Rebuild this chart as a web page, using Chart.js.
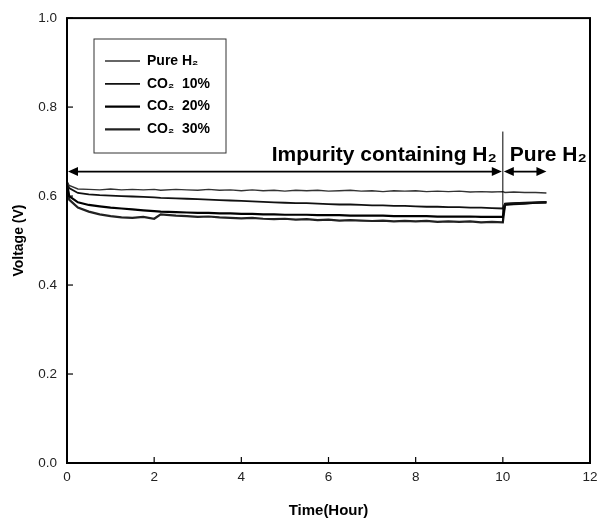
<!DOCTYPE html>
<html>
<head>
<meta charset="utf-8">
<script src="https://cdn.jsdelivr.net/npm/chart.js@4.4.1/dist/chart.umd.min.js"></script>
<style>
    html, body { margin: 0; padding: 0; background: #fff; }
    #wrap { width: 605px; height: 524px; }
</style>
</head>
<body>
<div id="wrap"><canvas id="voltChart" width="605" height="524"></canvas></div>
<script>
// time in hours
const times = [0, 0.05, 0.25, 0.5, 0.75, 1, 1.25, 1.5, 1.75, 2, 2.15, 2.5, 2.75, 3, 3.25, 3.5, 3.75, 4, 4.25, 4.5, 4.75, 5, 5.25, 5.5, 5.75, 6, 6.25, 6.5, 6.75, 7, 7.25, 7.5, 7.75, 8, 8.25, 8.5, 8.75, 9, 9.25, 9.5, 9.75, 10, 10.05, 10.25, 10.5, 10.75, 11];

const pureH2 = [0.632, 0.624, 0.616, 0.615, 0.614, 0.616, 0.614, 0.615, 0.614, 0.615, 0.613, 0.615, 0.614, 0.613, 0.615, 0.613, 0.614, 0.612, 0.614, 0.612, 0.613, 0.611, 0.613, 0.612, 0.613, 0.611, 0.612, 0.613, 0.611, 0.612, 0.610, 0.612, 0.611, 0.612, 0.610, 0.611, 0.610, 0.611, 0.609, 0.610, 0.609, 0.610, 0.608, 0.609, 0.608, 0.608, 0.607];
const co2_10 = [0.632, 0.618, 0.607, 0.604, 0.602, 0.601, 0.600, 0.599, 0.598, 0.597, 0.596, 0.595, 0.594, 0.593, 0.592, 0.591, 0.590, 0.589, 0.588, 0.587, 0.586, 0.585, 0.584, 0.584, 0.583, 0.582, 0.581, 0.581, 0.580, 0.579, 0.579, 0.578, 0.578, 0.577, 0.576, 0.576, 0.575, 0.575, 0.574, 0.574, 0.573, 0.572, 0.583, 0.584, 0.585, 0.586, 0.587];
const co2_20 = [0.630, 0.600, 0.586, 0.580, 0.577, 0.574, 0.572, 0.570, 0.568, 0.566, 0.565, 0.564, 0.563, 0.562, 0.562, 0.561, 0.561, 0.560, 0.560, 0.559, 0.559, 0.558, 0.558, 0.558, 0.557, 0.557, 0.557, 0.556, 0.556, 0.556, 0.556, 0.555, 0.555, 0.555, 0.555, 0.554, 0.554, 0.554, 0.554, 0.553, 0.553, 0.553, 0.582, 0.583, 0.584, 0.585, 0.586];
const co2_30 = [0.625, 0.592, 0.574, 0.565, 0.559, 0.555, 0.552, 0.551, 0.553, 0.549, 0.559, 0.556, 0.555, 0.553, 0.554, 0.552, 0.551, 0.550, 0.551, 0.549, 0.548, 0.549, 0.547, 0.548, 0.546, 0.547, 0.545, 0.546, 0.545, 0.544, 0.545, 0.543, 0.544, 0.543, 0.544, 0.542, 0.543, 0.542, 0.543, 0.541, 0.542, 0.541, 0.580, 0.582, 0.583, 0.585, 0.586];

const seriesLabels = ['Pure H₂', 'CO₂  10%', 'CO₂  20%', 'CO₂  30%'];
const xTicks = [0, 2, 4, 6, 8, 10, 12];
const yTicks = [0.0, 0.2, 0.4, 0.6, 0.8, 1.0];

// annotation positions (data units)
const arrowV = 0.655;
const switchTime = 10;
const endTime = 11;
const switchLineTop = 0.745;
const switchLineBottom = 0.54;
const regionLabels = ['Impurity containing H₂', 'Pure H₂'];

function toPoints(vals) {
    return times.map((t, i) => ({ x: t, y: vals[i] }));
}

const lineStyles = [
    { color: '#333', width: 1.4 },
    { color: '#111', width: 1.8 },
    { color: '#000', width: 2.2 },
    { color: '#222', width: 2.2 }
];

function arrowHead(ctx, x, y, dir) {
    ctx.beginPath();
    ctx.moveTo(x, y);
    ctx.lineTo(x - dir * 10, y - 4.5);
    ctx.lineTo(x - dir * 10, y + 4.5);
    ctx.closePath();
    ctx.fill();
}

const decorPlugin = {
    id: 'decor',
    afterDraw(chart) {
        const ctx = chart.ctx;
        const xs = chart.scales.x;
        const ys = chart.scales.y;
        const area = chart.chartArea;
        ctx.save();

        // frame
        ctx.strokeStyle = '#000';
        ctx.lineWidth = 2;
        ctx.strokeRect(area.left, area.top, area.right - area.left, area.bottom - area.top);

        // inward ticks
        ctx.lineWidth = 1.2;
        xTicks.forEach(v => {
            const px = xs.getPixelForValue(v);
            ctx.beginPath();
            ctx.moveTo(px, area.bottom);
            ctx.lineTo(px, area.bottom - 6);
            ctx.stroke();
        });
        yTicks.forEach(v => {
            const py = ys.getPixelForValue(v);
            ctx.beginPath();
            ctx.moveTo(area.left, py);
            ctx.lineTo(area.left + 6, py);
            ctx.stroke();
        });

        // switch line + arrows
        const x0 = xs.getPixelForValue(0);
        const x10 = xs.getPixelForValue(switchTime);
        const x11 = xs.getPixelForValue(endTime);
        const ay = ys.getPixelForValue(arrowV);
        ctx.lineWidth = 1;
        ctx.beginPath();
        ctx.moveTo(x10, ys.getPixelForValue(switchLineTop));
        ctx.lineTo(x10, ys.getPixelForValue(switchLineBottom));
        ctx.stroke();

        ctx.lineWidth = 1.6;
        ctx.fillStyle = '#000';
        ctx.beginPath();
        ctx.moveTo(x0 + 4, ay);
        ctx.lineTo(x10 - 4, ay);
        ctx.moveTo(x10 + 4, ay);
        ctx.lineTo(x11 - 4, ay);
        ctx.stroke();
        arrowHead(ctx, x0 + 1, ay, -1);
        arrowHead(ctx, x10 - 1, ay, 1);
        arrowHead(ctx, x10 + 1, ay, -1);
        arrowHead(ctx, x11, ay, 1);

        // region labels
        ctx.font = 'bold 21px "Liberation Sans", Arial, sans-serif';
        ctx.textBaseline = 'alphabetic';
        ctx.textAlign = 'right';
        ctx.fillText(regionLabels[0], x10 - 6, ay - 11);
        ctx.textAlign = 'left';
        ctx.fillText(regionLabels[1], x10 + 7, ay - 11);

        // legend box
        const lx = 94, ly = 39, lw = 132, lh = 114;
        ctx.lineWidth = 1;
        ctx.strokeStyle = '#333';
        ctx.strokeRect(lx, ly, lw, lh);
        ctx.font = 'bold 14px "Liberation Sans", Arial, sans-serif';
        ctx.textBaseline = 'middle';
        chart.data.datasets.forEach((ds, i) => {
            const ry = ly + 22 + i * 22.8;
            ctx.strokeStyle = ds.borderColor;
            ctx.lineWidth = ds.borderWidth;
            ctx.beginPath();
            ctx.moveTo(lx + 11, ry);
            ctx.lineTo(lx + 46, ry);
            ctx.stroke();
            ctx.fillStyle = '#000';
            ctx.fillText(ds.label, lx + 53, ry);
        });
        ctx.restore();
    }
};

const ctx = document.getElementById('voltChart').getContext('2d');
const voltChart = new Chart(ctx, {
    type: 'line',
    data: {
        datasets: [pureH2, co2_10, co2_20, co2_30].map((vals, i) => ({
            label: seriesLabels[i],
            data: toPoints(vals),
            borderColor: lineStyles[i].color,
            borderWidth: lineStyles[i].width,
            pointRadius: 0,
            tension: 0,
            fill: false
        }))
    },
    options: {
        responsive: false,
        animation: false,
        layout: { padding: { top: 14, right: 15, left: 0, bottom: 0 } },
        plugins: {
            legend: { display: false },
            tooltip: { enabled: false }
        },
        scales: {
            x: {
                type: 'linear',
                min: 0,
                max: 12,
                afterBuildTicks: scale => { scale.ticks = xTicks.map(v => ({ value: v })); },
                afterFit: scale => { scale.height = 61; },
                grid: { drawOnChartArea: false, drawTicks: false },
                border: { display: false },
                ticks: {
                    padding: 6,
                    color: '#222',
                    font: { family: '"Liberation Sans", Arial, sans-serif', size: 13.5 },
                    callback: v => v
                },
                title: {
                    display: true,
                    text: 'Time(Hour)',
                    color: '#000',
                    padding: { top: 12 },
                    font: { family: '"Liberation Sans", Arial, sans-serif', size: 15, weight: 'bold' }
                }
            },
            y: {
                min: 0,
                max: 1,
                afterBuildTicks: scale => { scale.ticks = yTicks.map(v => ({ value: v })); },
                afterFit: scale => { scale.width = 67; },
                grid: { drawOnChartArea: false, drawTicks: false },
                border: { display: false },
                ticks: {
                    padding: 10,
                    color: '#222',
                    font: { family: '"Liberation Sans", Arial, sans-serif', size: 13.5 },
                    callback: v => Number(v).toFixed(1)
                },
                title: {
                    display: true,
                    text: 'Voltage (V)',
                    color: '#000',
                    padding: { top: 11, bottom: 0 },
                    font: { family: '"Liberation Sans", Arial, sans-serif', size: 14, weight: 'bold' }
                }
            }
        }
    },
    plugins: [decorPlugin]
});
</script>
</body>
</html>
